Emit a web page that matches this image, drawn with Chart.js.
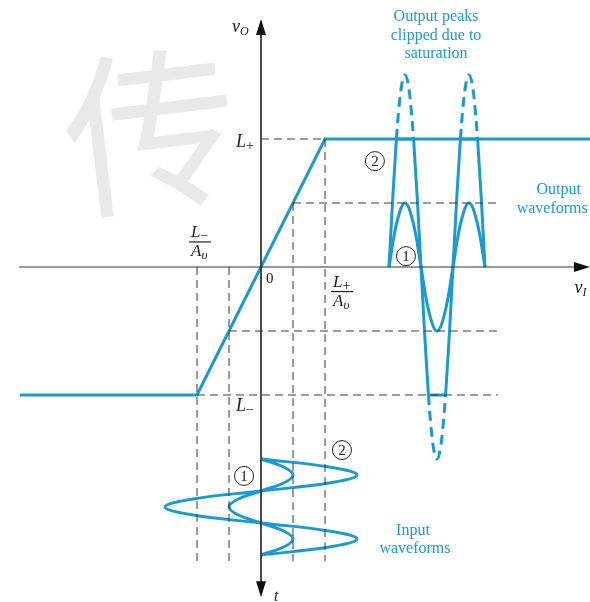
<!DOCTYPE html>
<html>
<head>
<meta charset="utf-8">
<script src="https://cdn.jsdelivr.net/npm/chart.js@4.4.1/dist/chart.umd.min.js"></script>
<style>
html,body{margin:0;padding:0;background:#fff;}
#c{display:block;}
</style>
</head>
<body>
<canvas id="c" width="590" height="602"></canvas>
<script>
// ---------- data (chart units: vI horizontally, vO vertically) ----------
const L_PLUS = 4;          // positive saturation level
const L_MINUS = -4;        // negative saturation level
const AV = 2;              // small-signal gain (slope)
const transferX = [-7.53, -2, 2, 10.3];
const transferY = [-4, -4, 4, 4];

// input waveforms: time runs downward from INPUT_T0
const INPUT_T0 = -6;
const inputTime = [0, 0.25, 0.5, 0.75, 1, 1.25, 1.5, 1.75, 2, 2.25, 2.5, 2.75, 3];
const input1 = [0, 0.71, 1, 0.71, 0, -0.71, -1, -0.71, 0, 0.71, 1, 0.71, 0];
const input2 = [0, 2.12, 3, 2.12, 0, -2.12, -3, -2.12, 0, 2.12, 3, 2.12, 0];

// output waveforms: time runs rightward from OUTPUT_T0
const OUTPUT_T0 = 4;
const outputTime = [0, 0.25, 0.5, 0.75, 1, 1.25, 1.5, 1.75, 2, 2.25, 2.5, 2.75, 3];
const output1 = [0, 1.41, 2, 1.41, 0, -1.41, -2, -1.41, 0, 1.41, 2, 1.41, 0];
const output2Time = [0, 0.116, 0.232, 0.768, 0.884, 1, 1.116, 1.232, 1.768, 1.884, 2, 2.116, 2.232, 2.768, 2.884, 3];
const output2 = [0, 2.14, 4, 4, 2.14, 0, -2.14, -4, -4, -2.14, 0, 2.14, 4, 4, 2.14, 0];
// clipped-off (unrealised) peaks, drawn dashed
const peakTime1 = [0.232, 0.3, 0.4, 0.5, 0.6, 0.7, 0.768];
const peakVals1 = [4, 4.85, 5.71, 6, 5.71, 4.85, 4];
const peakTime2 = [1.232, 1.3, 1.4, 1.5, 1.6, 1.7, 1.768];
const peakVals2 = [-4, -4.85, -5.71, -6, -5.71, -4.85, -4];
const peakTime3 = [2.232, 2.3, 2.4, 2.5, 2.6, 2.7, 2.768];
const peakVals3 = [4, 4.85, 5.71, 6, 5.71, 4.85, 4];

// ---------- build ----------
const BLUE = 'rgb(24,154,212)';
const zip = (xs, ys) => xs.map((x, i) => ({x: x, y: ys[i]}));
const inputPts = vals => inputTime.map((t, i) => ({x: vals[i], y: INPUT_T0 - t}));
const outPts = (ts, vals) => ts.map((t, i) => ({x: OUTPUT_T0 + t, y: vals[i]}));

const GUIDE_BOTTOM = -9.2, GUIDE_RIGHT = 7.4;
const guide = (pts) => ({data: pts, borderColor: '#3a3a3a', borderWidth: 1, borderDash: [8, 5], showLine: true, pointRadius: 0, tension: 0, fill: false});
const solid = (pts, color, w, t) => ({data: pts, borderColor: color, borderWidth: w, showLine: true, pointRadius: 0, tension: t, fill: false});

const datasets = [
  // axes
  solid([{x: -7.56, y: 0}, {x: 10.2, y: 0}], '#333', 1, 0),
  solid([{x: 0, y: 7.6}, {x: 0, y: -10.2}], '#333', 1, 0),
  // guide lines
  guide([{x: 0, y: L_PLUS}, {x: L_PLUS / AV, y: L_PLUS}]),
  guide([{x: L_PLUS / AV, y: L_PLUS}, {x: L_PLUS / AV, y: GUIDE_BOTTOM}]),
  guide([{x: 1, y: 2}, {x: 1, y: GUIDE_BOTTOM}]),
  guide([{x: 1, y: 2}, {x: GUIDE_RIGHT, y: 2}]),
  guide([{x: -1, y: 0}, {x: -1, y: GUIDE_BOTTOM}]),
  guide([{x: L_MINUS / AV, y: 0}, {x: L_MINUS / AV, y: GUIDE_BOTTOM}]),
  guide([{x: -1, y: -2}, {x: GUIDE_RIGHT, y: -2}]),
  guide([{x: L_MINUS / AV, y: L_MINUS}, {x: GUIDE_RIGHT, y: L_MINUS}]),
  // transfer characteristic
  solid(zip(transferX, transferY), BLUE, 3, 0),
  // input waveforms
  solid(inputPts(input1), BLUE, 3, 0.4),
  solid(inputPts(input2), BLUE, 3, 0.4),
  // output waveforms
  solid(outPts(outputTime, output1), BLUE, 3, 0.4),
  solid(outPts(output2Time, output2), BLUE, 3, 0),
  Object.assign(solid(outPts(peakTime1, peakVals1), BLUE, 3, 0.4), {borderDash: [10, 6]}),
  Object.assign(solid(outPts(peakTime2, peakVals2), BLUE, 3, 0.4), {borderDash: [10, 6]}),
  Object.assign(solid(outPts(peakTime3, peakVals3), BLUE, 3, 0.4), {borderDash: [10, 6]})
];

const SERIF = '"Liberation Serif", "DejaVu Serif", serif';

const overlay = {
  id: 'overlay',
  beforeDraw(chart) {
    const ctx = chart.ctx;
    ctx.save();
    ctx.fillStyle = '#fff';
    ctx.fillRect(0, 0, chart.width, chart.height);
    // faint watermark
    const sx = chart.scales.x, sy = chart.scales.y;
    ctx.translate(sx.getPixelForValue(-3.45), sy.getPixelForValue(4.25));
    ctx.rotate(-0.12);
    ctx.fillStyle = 'rgba(0,0,0,0.085)';
    ctx.font = '175px "Noto Sans CJK SC"';
    ctx.textAlign = 'center';
    ctx.textBaseline = 'middle';
    ctx.fillText('传', 0, 0);
    ctx.restore();
  },
  afterDatasetsDraw(chart) {
    const ctx = chart.ctx;
    const sx = chart.scales.x, sy = chart.scales.y;
    const X = v => sx.getPixelForValue(v), Y = v => sy.getPixelForValue(v);
    ctx.save();
    // arrowheads
    ctx.fillStyle = '#111';
    const arrow = (tx, ty, dx, dy) => {
      const len = 16, half = 5;
      const bx = tx - dx * len, by = ty - dy * len;
      ctx.beginPath();
      ctx.moveTo(tx, ty);
      ctx.lineTo(bx - dy * half, by + dx * half);
      ctx.lineTo(bx + dy * half, by - dx * half);
      ctx.closePath();
      ctx.fill();
    };
    arrow(X(0), Y(7.75), 0, -1);
    arrow(X(10.28), Y(0), 1, 0);
    arrow(X(0), Y(-10.32), 0, 1);

    // math labels
    ctx.fillStyle = '#222';
    ctx.textBaseline = 'alphabetic';
    ctx.textAlign = 'left';
    const math = (x, y, main, sub, size, subSize) => {
      ctx.font = 'italic ' + size + 'px ' + SERIF;
      ctx.fillText(main, x, y);
      const w = ctx.measureText(main).width;
      if (sub) {
        ctx.font = (sub === '+' || sub === '−' ? '' : 'italic ') + subSize + 'px ' + SERIF;
        ctx.fillText(sub, x + w, y + 3);
      }
      return w;
    };
    const frac = (x, y, numMain, numSub, denMain, denSub) => {
      math(x + 1, y - 5, numMain, numSub, 17, 14);
      ctx.fillRect(x - 1, y - 1, 22, 1.2);
      math(x + 1, y + 14, denMain, denSub, 17, 13);
    };
    math(X(0) - 29, Y(7.35), 'v', 'O', 18, 12);
    math(X(0) - 25, Y(3.75), 'L', '+', 18, 14);
    math(X(0) - 25, Y(-4.5), 'L', '−', 18, 14);
    math(X(9.8), Y(-0.8), 'v', 'I', 18, 12);
    math(X(0) + 13, Y(-10.45), 't', '', 16, 11);
    frac(X(L_MINUS / AV) - 7, Y(0.77), 'L', '−', 'A', 'υ');
    frac(X(L_PLUS / AV) + 7, Y(-0.78), 'L', '+', 'A', 'υ');
    ctx.font = '15px ' + SERIF;
    ctx.fillText('0', X(0) + 5, Y(-0.5));

    // circled numbers
    const circ = (cx, cy, s) => {
      ctx.beginPath();
      ctx.lineWidth = 1;
      ctx.strokeStyle = '#222';
      ctx.arc(cx, cy, 9.5, 0, Math.PI * 2);
      ctx.stroke();
      ctx.font = '15px ' + SERIF;
      ctx.textAlign = 'center';
      ctx.textBaseline = 'middle';
      ctx.fillText(s, cx, cy + 1);
      ctx.textAlign = 'left';
      ctx.textBaseline = 'alphabetic';
    };
    circ(X(4.53), Y(0.34), '1');
    circ(X(3.56), Y(3.31), '2');
    circ(X(-0.53), Y(-6.53), '1');
    circ(X(2.53), Y(-5.72), '2');

    // blue captions
    ctx.fillStyle = BLUE;
    ctx.font = '16px ' + SERIF;
    ctx.textAlign = 'center';
    ctx.textBaseline = 'middle';
    const cap = (u, v, s) => ctx.fillText(s, X(u), Y(v));
    cap(5.47, 7.81, 'Output peaks');
    cap(5.47, 7.22, 'clipped due to');
    cap(5.47, 6.66, 'saturation');
    cap(9.3, 2.41, 'Output');
    cap(9.1, 1.81, 'waveforms');
    cap(4.75, -8.25, 'Input');
    cap(4.81, -8.81, 'waveforms');
    ctx.restore();
  }
};

new Chart(document.getElementById('c'), {
  type: 'scatter',
  data: {datasets: datasets},
  options: {
    responsive: false,
    animation: false,
    devicePixelRatio: 1,
    layout: {padding: 0},
    plugins: {legend: {display: false}, tooltip: {enabled: false}, title: {display: false}},
    scales: {
      x: {type: 'linear', display: false, min: -261 / 32, max: 329 / 32},
      y: {type: 'linear', display: false, min: -335 / 32, max: 267 / 32}
    }
  },
  plugins: [overlay]
});
</script>
</body>
</html>
